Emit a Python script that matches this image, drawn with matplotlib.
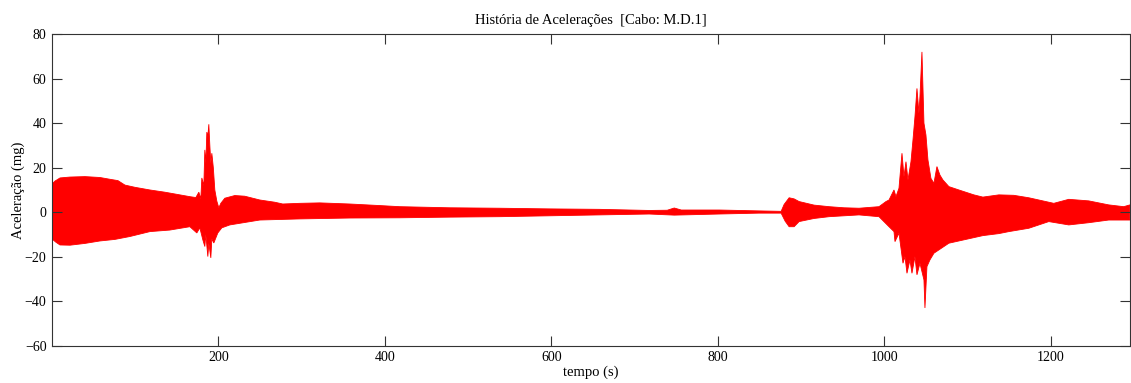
import numpy as np
import matplotlib
matplotlib.use('Agg')
import matplotlib.pyplot as plt

# envelope superior do sinal (tempo em s, aceleração em mg)
t_sup = [0, 3.6, 9.6, 21.6, 39.6, 57.6, 69.6, 79.2, 87.6, 99.6, 117.6, 135.6, 153.6, 165.6,
         172.8, 176.4, 178.8, 180, 182.4, 183.6, 184.8, 186, 187.2, 188.4, 189.6, 190.8, 192,
         193.8, 195.6, 198, 200.4, 202.8, 207.6, 219.6, 231.6, 249.6, 267.6, 277.2, 297.6,
         321.6, 357.6, 393.6, 417.6, 477.6, 537.6, 597.6, 657.6, 717.6, 739.2, 747.6, 756,
         801.6, 825.6, 849.6, 876, 879.6, 885.6, 891.6, 897.6, 915.6, 933.6, 951.6, 969.6,
         993.6, 1002, 1005.6, 1011.6, 1014, 1017.6, 1021.2, 1023.6, 1026, 1028.4, 1032,
         1034.4, 1036.8, 1039.2, 1041.6, 1042.8, 1045.2, 1047.6, 1050, 1052.4, 1056, 1059.6,
         1063.2, 1066.8, 1070.4, 1077.6, 1089.6, 1107.6, 1118.4, 1137.6, 1155.6, 1173.6,
         1185.6, 1203.6, 1221.6, 1245.6, 1269.6, 1287.6, 1295]
a_sup = [12.7, 14, 15.4, 15.8, 16.0, 15.6, 14.8, 14.2, 12.2, 11.2, 10.0, 9.0, 7.8, 7.0,
         6.6, 9.0, 6.0, 15.4, 12, 28, 22, 36, 34, 39.5, 30, 22, 26.5,
         20, 10, 5, 2, 4, 6.3, 7.5, 7.2, 5.5, 4.5, 3.7, 4.0,
         4.2, 3.7, 3.0, 2.5, 2.0, 1.8, 1.5, 1.3, 0.8, 0.9, 1.9, 1.0,
         1.0, 0.8, 0.6, 0.4, 3.5, 6.5, 6.0, 4.8, 3.2, 2.5, 2.0, 1.8,
         2.5, 4.8, 5.5, 10, 7, 10.8, 26.5, 16, 22.7, 14.5, 22.7,
         32.4, 42.9, 55.6, 44.4, 51.9, 72, 40, 34.7, 23.5, 15.2, 13,
         20.5, 16.7, 14.5, 11.5, 10, 7.8, 6.8, 7.8, 7.6, 6.5,
         5.5, 4.0, 5.8, 5.1, 3.3, 2.5, 3.3]

# envelope inferior
t_inf = [0, 4.8, 9.6, 21.6, 39.6, 57.6, 75.6, 93.6, 117.6, 141.6, 165.6, 174, 177.6, 181.2,
         183.6, 184.8, 187.2, 188.4, 190.8, 192, 194.4, 199.2, 204, 213.6, 249.6, 297.6,
         357.6, 417.6, 477.6, 537.6, 657.6, 717.6, 747.6, 801.6, 849.6, 876, 880.8, 885.6,
         891.6, 897.6, 915.6, 933.6, 969.6, 993.6, 1005.6, 1011.6, 1012.8, 1017.6, 1022.4,
         1024.8, 1027.2, 1030.8, 1033.2, 1036.8, 1039.2, 1042.8, 1047.6, 1048.8, 1051.2,
         1054.8, 1059.6, 1065.6, 1077.6, 1095.6, 1118.4, 1137.6, 1149.6, 1173.6, 1197.6,
         1221.6, 1245.6, 1269.6, 1295]
a_inf = [-12, -13.5, -14.7, -14.8, -14.0, -12.9, -12.2, -10.9, -8.7, -8.0, -6.5, -9.3, -7, -12.4,
         -15.4, -10, -19.9, -14, -20.5, -12, -13.8, -9.3, -7, -5.7, -3.5, -3.0,
         -2.6, -2.5, -2.2, -2.0, -1.2, -0.8, -1.3, -0.8, -0.4, -0.4, -4, -6.5,
         -6.5, -4.2, -2.8, -2.0, -1.2, -2.0, -6.5, -8.7, -13.2, -9.4, -22.9,
         -19.9, -27.4, -21.4, -27.4, -19.9, -28.1, -22.9, -30.4, -43, -24.4,
         -21.4, -18.4, -16.9, -13.9, -12.4, -10.5, -9.6, -8.7, -7.2, -4.2,
         -5.7, -4.7, -3.5, -3.5]

plt.rcParams['font.family'] = ['Liberation Serif', 'DejaVu Serif']

fig = plt.figure(figsize=(11.31, 3.83), dpi=100)
ax = fig.add_axes([0.046, 0.097, 0.953, 0.814])

xs = np.concatenate([t_sup, t_inf[::-1]])
ys = np.concatenate([a_sup, a_inf[::-1]])
ax.fill(xs, ys, color='#ff0000', lw=0.6, ec='#ff0000')

ax.set_xlim(0, 1295)
ax.set_ylim(-60, 80)
ax.set_xticks([200, 400, 600, 800, 1000, 1200])
ax.set_yticks(np.arange(-60, 81, 20))
ax.tick_params(direction='in', length=7, width=0.8, color='#333333',
               top=True, right=True, labelsize=10, pad=4)
for s in ax.spines.values():
    s.set_color('#333333')
    s.set_linewidth(0.8)

ax.set_title('História de Acelerações  [Cabo: M.D.1]', fontsize=10.5, pad=7)
ax.set_xlabel('tempo (s)', fontsize=10.5, labelpad=1)
ax.set_ylabel('Aceleração (mg)', fontsize=10.5, labelpad=0)

plt.savefig('out.png', dpi=100)
